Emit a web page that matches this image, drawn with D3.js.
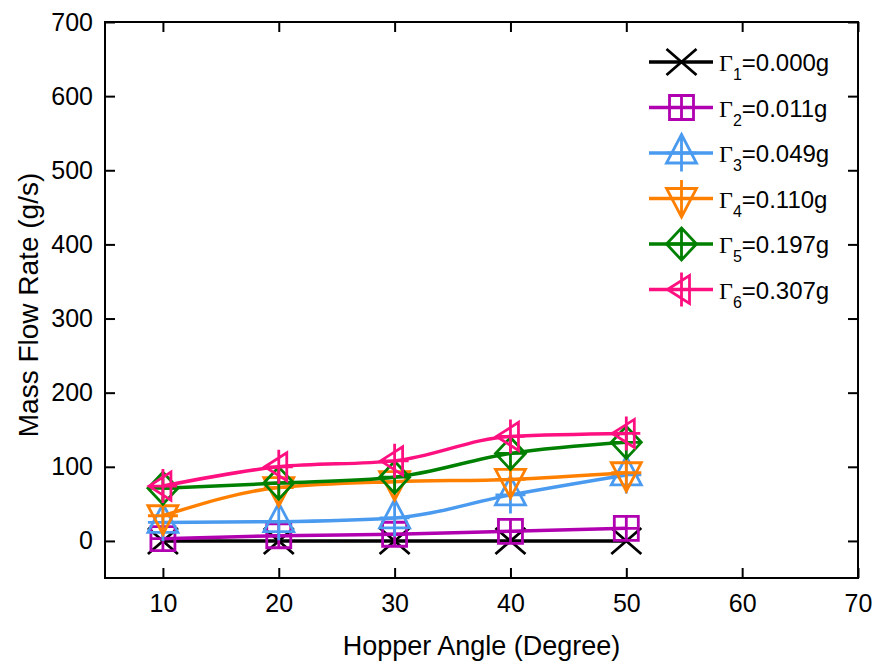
<!DOCTYPE html>
<html>
<head>
<meta charset="utf-8">
<script src="https://cdn.jsdelivr.net/npm/d3@7"></script>
<style>
  body { margin: 0; background: #fff; }
  svg text { font-family: "Liberation Sans", Arial, sans-serif; fill: #000; }
</style>
</head>
<body>
<div class="chart"></div>
<script>
// data
var angles = [10, 20, 30, 40, 50];
var gamma1 = [0, 0, 0, 0, 0];
var gamma2 = [3, 7, 9, 13, 17];
var gamma3 = [25, 26, 31, 62, 89];
var gamma4 = [34, 72, 80, 83, 92];
var gamma5 = [71, 78, 86, 118, 133];
var gamma6 = [74, 100, 108, 141, 145];
var seriesSub = ['1', '2', '3', '4', '5', '6'];
var seriesVal = ['=0.000g', '=0.011g', '=0.049g', '=0.110g', '=0.197g', '=0.307g'];
var xTicks = [10, 20, 30, 40, 50, 60, 70];
var yTicks = [0, 100, 200, 300, 400, 500, 600, 700];

var colors = ['#000000', '#b000b0', '#4a9bf0', '#ff8000', '#008000', '#ff1080'];
var shapes = ['cross', 'square', 'up', 'down', 'diamond', 'left'];
var allSeries = [gamma1, gamma2, gamma3, gamma4, gamma5, gamma6];

var W = 877, H = 664;
var margin = { left: 105, right: 858, top: 22, bottom: 578 };

var svg = d3.select('.chart')
  .append('svg')
    .attr('width', W)
    .attr('height', H);

var x = d3.scaleLinear().domain([5, 70]).range([margin.left, margin.right]);
var y = d3.scaleLinear().domain([-50, 700]).range([margin.bottom, margin.top]);

// axes, ticks pointing inward on all four sides
function styleAxis(g) {
  g.select('.domain').remove();
  g.selectAll('line').attr('stroke', '#000').attr('stroke-width', 2);
  g.selectAll('text').style('font-size', '25px').attr('fill', '#000');
}

svg.append('g')
    .attr('transform', `translate(0, ${margin.bottom})`)
  .call(d3.axisBottom(x).tickValues(xTicks).tickSize(-10).tickPadding(16))
  .call(styleAxis);

svg.append('g')
    .attr('transform', `translate(0, ${margin.top})`)
  .call(d3.axisTop(x).tickValues(xTicks).tickSize(-10).tickFormat(''))
  .call(styleAxis);

svg.append('g')
    .attr('transform', `translate(${margin.left}, 0)`)
  .call(d3.axisLeft(y).tickValues(yTicks).tickSize(-10).tickPadding(12))
  .call(styleAxis);

svg.append('g')
    .attr('transform', `translate(${margin.right}, 0)`)
  .call(d3.axisRight(y).tickValues(yTicks).tickSize(-10).tickFormat(''))
  .call(styleAxis);

svg.append('rect')
  .attr('x', margin.left).attr('y', margin.top)
  .attr('width', margin.right - margin.left).attr('height', margin.bottom - margin.top)
  .attr('fill', 'none').attr('stroke', '#000').attr('stroke-width', 2);

// marker outlines (with the plus drawn through them)
function markerPath(shape) {
  switch (shape) {
    case 'cross':
      return 'M-15,-13L15,13M-15,13L15,-13';
    case 'square':
      return 'M-12,-12H12V12H-12Z M0,-12V12 M-12,0H12';
    case 'up':
      return 'M0,-18.5L15,10L-15,10Z M0,-18.5V18.5 M-15,0H15';
    case 'down':
      return 'M0,18.5L15,-10L-15,-10Z M0,18.5V-18.5 M-15,0H15';
    case 'diamond':
      return 'M0,-16L15,0L0,16L-15,0Z M0,-16V16 M-15,0H15';
    case 'left':
      return 'M-14,0L8,-14L8,14Z M0,-17V17 M-14,0H14';
  }
}

var line = d3.line()
  .x((d, i) => x(angles[i]))
  .y(d => y(d))
  .curve(d3.curveMonotoneX);

var plot = svg.append('g');

allSeries.forEach(function(vals, s) {
  var g = plot.append('g');
  g.append('path')
    .datum(vals)
    .attr('d', line)
    .attr('fill', 'none')
    .attr('stroke', colors[s])
    .attr('stroke-width', 3.5);
  g.selectAll('.mk')
    .data(vals)
    .enter()
    .append('path')
    .attr('transform', (d, i) => `translate(${x(angles[i])}, ${y(d)})`)
    .attr('d', markerPath(shapes[s]))
    .attr('fill', 'none')
    .attr('stroke', colors[s])
    .attr('stroke-width', 2.8);
});

// legend
var legend = svg.append('g');
seriesSub.forEach(function(sub, s) {
  var ly = 62 + s * 45.5;
  legend.append('line')
    .attr('x1', 649).attr('x2', 713)
    .attr('y1', ly).attr('y2', ly)
    .attr('stroke', colors[s]).attr('stroke-width', 3.5);
  legend.append('path')
    .attr('transform', `translate(681.5, ${ly})`)
    .attr('d', markerPath(shapes[s]))
    .attr('fill', 'none')
    .attr('stroke', colors[s])
    .attr('stroke-width', 2.8);
  var t = legend.append('text')
    .attr('x', 719).attr('y', ly + 9)
    .style('font-size', '24px');
  t.append('tspan').style('font-family', '"Liberation Serif", serif').text('\u0393');
  t.append('tspan').attr('dy', 9).style('font-size', '16px').text(sub);
  t.append('tspan').attr('dy', -9).text(seriesVal[s]);
});

// axis titles
svg.append('text')
  .attr('x', (margin.left + margin.right) / 2)
  .attr('y', 655)
  .attr('text-anchor', 'middle')
  .style('font-size', '27px')
  .text('Hopper Angle (Degree)');

svg.append('text')
  .attr('transform', `translate(38, 305) rotate(-90)`)
  .attr('text-anchor', 'middle')
  .style('font-size', '28px')
  .text('Mass Flow Rate (g/s)');
</script>
</body>
</html>
